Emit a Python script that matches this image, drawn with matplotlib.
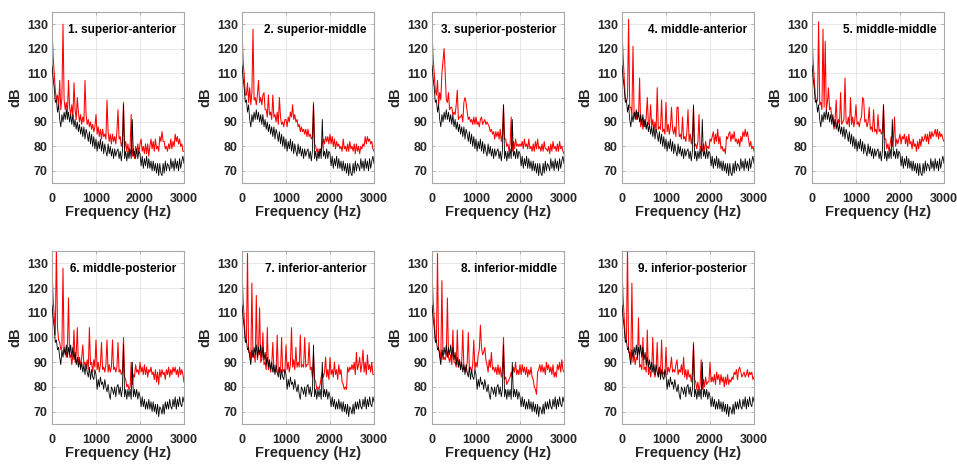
import numpy as np
import matplotlib
matplotlib.use("Agg")
import matplotlib.pyplot as plt

plt.rcParams['font.family'] = ['Liberation Sans', 'DejaVu Sans']
plt.rcParams['font.weight'] = 'bold'

freq_step = 25
freq = np.arange(0, 3001, freq_step)

titles = ["1. superior-anterior", "2. superior-middle", "3. superior-posterior",
          "4. middle-anterior", "5. middle-middle", "6. middle-posterior",
          "7. inferior-anterior", "8. inferior-middle", "9. inferior-posterior"]

x_ticks = [0, 1000, 2000, 3000]
y_ticks = [70, 80, 90, 100, 110, 120, 130]

# baseline (black) spectra
black_top = [113,108,104,98,99,94,97,91,88,93,90,94,91,95,91,94,90,93,89,93,
             88,91,87,90,86,89,85,88,84,88,83,87,85,82,86,81,85,80,84,79,
             83,78,82,79,83,78,82,77,81,78,76,81,77,80,76,79,75,79,76,78,
             79,75,78,74,78,97,75,78,74,78,75,79,75,91,76,78,75,79,75,78,
             77,72,76,71,75,72,76,71,75,71,74,70,74,70,73,69,73,68,73,69,
             68,73,69,74,70,73,72,70,75,71,74,70,75,71,74,70,75,71,74,76,
             73]
black_bot = [113,108,104,98,99,95,96,92,89,95,92,96,93,97,92,96,93,97,92,96,
             91,94,89,92,88,91,87,90,86,89,85,89,86,84,88,83,87,84,83,87,
             85,79,83,80,84,81,82,79,83,80,78,81,77,75,80,79,77,80,76,80,
             81,77,80,76,79,97,76,79,75,79,76,79,75,90,76,79,76,79,75,78,
             76,72,76,72,75,71,74,71,75,71,74,70,74,70,73,69,73,68,72,71,
             69,73,69,74,71,74,71,75,72,71,75,72,76,71,75,72,76,73,72,76,
             74]

# red spectra, one per position
red1 = [129,117,110,103,99,101,96,107,95,100,130,99,95,98,93,107,96,93,97,92,
        106,95,91,100,94,90,93,89,92,90,107,93,89,91,88,90,87,89,86,88,
        93,85,88,84,87,83,87,84,85,83,99,86,82,85,81,85,82,84,81,86,
        95,83,84,80,82,98,79,82,78,81,77,80,93,76,79,75,80,77,81,77,
        81,83,78,80,77,81,77,81,76,80,83,79,82,78,83,79,80,78,84,82,
        86,82,82,79,80,78,81,79,83,79,82,80,85,82,84,81,83,80,81,78,
        78]
red2 = [128,115,109,101,101,106,98,104,97,102,128,99,100,97,101,107,98,100,97,101,
        102,95,95,92,101,93,94,91,101,92,93,90,94,89,100,92,89,90,88,91,
        91,88,92,90,94,92,97,91,93,90,91,88,89,86,88,86,87,85,87,84,
        87,84,85,83,84,98,81,80,78,79,76,79,78,81,83,81,84,82,84,81,
        85,81,84,80,83,79,82,80,81,79,80,78,83,79,80,78,81,78,82,79,
        80,78,81,77,81,78,80,77,80,79,81,80,84,81,84,82,83,81,82,79,
        78]
red3 = [127,116,110,103,101,107,97,102,99,110,115,120,110,99,98,102,95,96,96,93,
        94,93,97,103,91,92,92,93,90,98,100,98,94,91,92,90,91,89,92,89,
        92,89,90,88,91,92,89,90,91,89,90,89,88,86,87,85,86,83,86,84,
        86,83,87,82,85,97,83,83,80,81,78,81,92,78,82,79,83,80,81,80,
        81,80,82,79,83,80,81,79,83,79,80,78,81,78,82,79,83,79,80,78,
        81,78,82,79,79,78,80,77,81,78,82,79,80,78,81,78,82,79,80,78,
        77]
red4 = [127,117,108,100,98,100,132,96,96,93,121,93,94,91,94,92,108,88,91,87,
        91,88,92,100,89,89,97,88,91,87,90,86,104,87,88,87,99,86,87,85,
        98,86,89,85,88,96,87,85,88,84,96,96,84,85,83,92,83,84,82,86,
        95,82,85,81,84,96,80,81,79,82,93,79,80,78,81,78,82,79,80,79,
        83,82,84,86,81,85,82,87,81,84,79,80,78,79,77,84,83,85,86,82,
        85,83,86,82,83,81,83,80,84,82,86,84,87,84,86,83,80,82,79,80,
        78]
red5 = [125,115,108,101,98,99,131,97,98,95,128,96,123,95,98,104,95,96,92,91,
        87,91,99,88,91,89,102,89,90,91,108,90,89,92,88,100,89,92,88,91,
        97,89,90,88,91,92,100,99,90,91,88,90,96,87,88,86,95,86,87,85,
        93,86,87,85,86,97,83,83,79,81,78,81,84,80,83,92,80,83,81,83,
        85,81,84,83,85,81,84,80,85,81,82,79,83,80,81,78,82,79,83,80,
        84,82,83,85,82,85,81,86,83,86,84,85,87,84,87,83,86,84,85,83,
        82]
red6 = [128,116,109,101,137,104,99,98,95,96,128,94,95,92,96,116,92,93,89,93,
        103,90,93,104,89,92,88,92,97,89,90,88,91,87,104,89,90,86,91,88,
        99,87,90,86,89,98,87,88,86,89,99,86,89,86,88,99,87,88,86,88,
        98,86,87,85,86,100,84,83,80,81,79,80,90,81,85,84,89,86,87,85,
        90,86,88,85,89,85,88,84,87,86,88,85,86,83,87,82,86,81,87,84,
        87,85,86,83,87,85,88,84,87,85,88,86,88,85,87,84,88,85,87,85,
        82]
red7 = [127,115,108,100,98,134,94,94,91,122,92,93,90,117,91,94,112,90,91,102,
        89,90,87,104,87,90,86,89,98,86,87,86,101,86,87,86,100,86,87,86,
        97,87,90,86,89,104,88,91,87,96,88,90,88,101,88,89,88,100,88,89,
        89,98,87,88,84,93,83,82,79,80,79,81,84,86,84,86,92,84,87,83,
        92,85,87,84,90,85,87,83,89,85,87,82,81,79,80,79,88,86,88,87,
        89,87,90,85,94,87,89,92,86,89,95,86,90,85,93,87,89,86,90,85,
        85]
red8 = [127,115,108,100,98,134,95,94,91,123,91,92,91,93,116,92,90,93,89,103,
        90,90,88,103,88,91,87,90,103,87,88,86,90,102,87,88,86,89,99,87,
        90,88,93,95,105,96,93,94,96,91,89,86,91,88,94,87,88,86,88,85,
        89,85,88,84,87,100,83,84,81,82,83,84,86,84,88,86,90,85,87,85,
        89,85,89,86,88,85,88,84,87,85,88,84,83,80,79,77,86,87,89,86,
        89,86,88,85,90,87,89,86,88,85,89,84,86,84,89,87,90,86,91,87,
        86]
red9 = [128,116,108,100,98,137,94,94,91,122,90,93,89,92,91,108,88,89,87,100,
        87,88,86,103,85,88,84,87,100,86,84,87,98,84,88,85,99,85,86,84,
        96,85,88,86,88,92,86,87,86,89,91,85,87,86,89,85,92,84,87,83,
        87,84,85,82,86,98,83,82,79,82,78,81,91,79,83,80,84,81,82,82,
        90,82,84,82,85,81,86,83,85,81,85,82,84,80,84,81,85,81,83,82,
        84,83,86,85,87,83,87,88,86,84,85,86,84,85,87,84,86,85,86,83,
        84]

reds = [red1, red2, red3, red4, red5, red6, red7, red8, red9]
blacks = [black_top] * 5 + [black_bot] * 4

fig = plt.figure(figsize=(9.57, 4.66), dpi=100)
W, H = 957.0, 466.0
ax_w = 132
col_left = [52, 242, 432, 622, 812]
rows = [(12, 183), (251, 424)]

for i in range(9):
    r, c = divmod(i, 5)
    top, bot = rows[r]
    ax = fig.add_axes([col_left[c] / W, 1 - bot / H, ax_w / W, (bot - top) / H])
    ax.plot(freq, reds[i], color='#ff0000', lw=0.75, zorder=2)
    ax.plot(freq, blacks[i], color='black', lw=0.6, zorder=3)
    ax.set_xlim(0, 3000)
    ax.set_ylim(65, 135)
    ax.set_xticks(x_ticks)
    ax.set_yticks(y_ticks)
    ax.grid(True, color='#e3e3e3', lw=0.6, zorder=0)
    ax.set_axisbelow(True)
    for s in ax.spines.values():
        s.set_color('#a8a8a8')
        s.set_linewidth(0.8)
    ax.tick_params(direction='in', length=2.5, width=0.6, color='#a8a8a8',
                   labelsize=9, top=True, right=True, pad=3)
    ax.tick_params(axis='x', pad=7.5)
    for lab in ax.get_xticklabels() + ax.get_yticklabels():
        lab.set_fontweight('bold')
        lab.set_color('#262626')
    ax.set_xlabel("Frequency (Hz)", fontsize=10.5, fontweight='bold', color='#262626', labelpad=0)
    ax.set_ylabel("dB", fontsize=10.5, fontweight='bold', color='#262626', labelpad=3)
    ax.text(0.945, 0.895, titles[i], transform=ax.transAxes, ha='right', va='center',
            fontsize=8.5, fontweight='bold', color='black', zorder=5)

fig.savefig("out.png", dpi=100)
